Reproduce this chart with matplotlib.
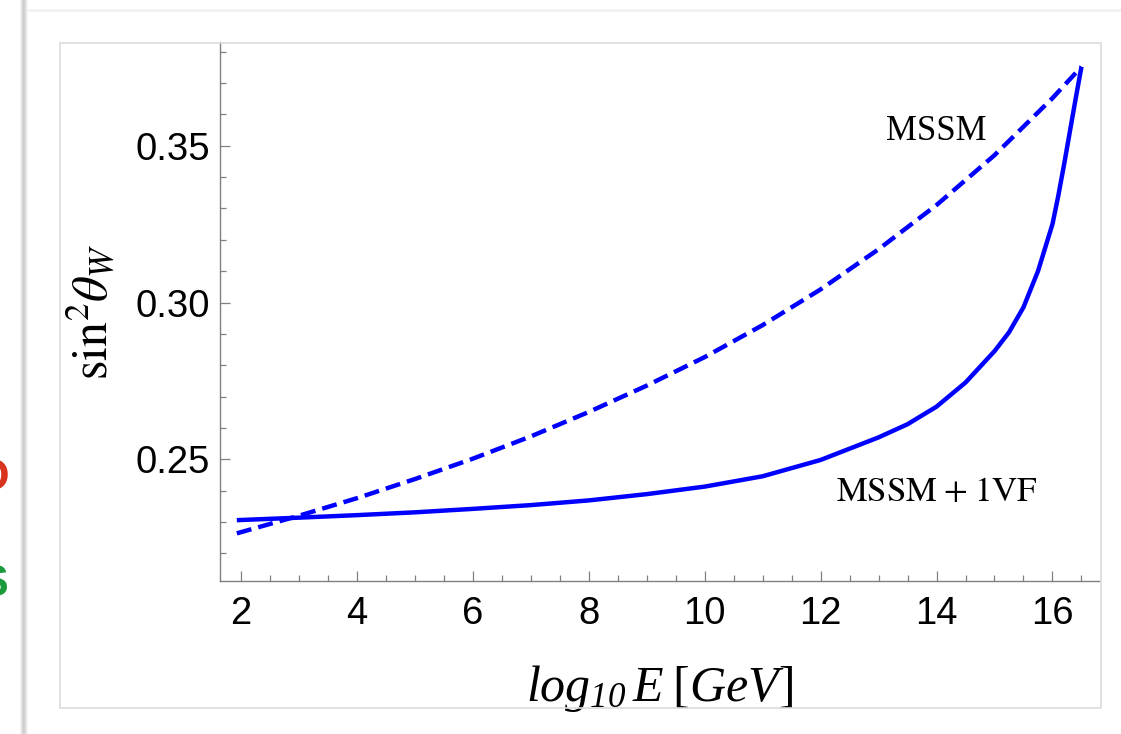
import matplotlib
matplotlib.use("Agg")
import matplotlib.pyplot as plt
from matplotlib.patches import Rectangle
from matplotlib.ticker import MultipleLocator

plt.rcParams["mathtext.fontset"] = "stix"
# the "custom" set is used only by the x label: italic Times-like, upright brackets via bf
plt.rcParams["mathtext.it"] = "Liberation Serif:italic"
plt.rcParams["mathtext.rm"] = "Liberation Serif:italic"
plt.rcParams["mathtext.bf"] = "Liberation Serif"
plt.rcParams["font.family"] = ["Liberation Sans", "DejaVu Sans"]

# values
x_mssm = [1.93, 3, 4, 5, 6, 7, 8, 9, 10, 11, 12, 13, 14, 15, 16, 16.5]
y_mssm = [0.2264, 0.2320, 0.2376, 0.2437, 0.2502, 0.2573, 0.2651, 0.2735, 0.2826,
          0.2928, 0.3042, 0.3170, 0.3311, 0.3470, 0.3652, 0.3752]

x_vf = [1.93, 3, 4, 5, 6, 7, 8, 9, 10, 11, 12, 13, 13.5, 14, 14.5, 15, 15.25, 15.5,
        15.75, 16, 16.1, 16.2, 16.3, 16.4, 16.5]
y_vf = [0.2306, 0.2314, 0.2322, 0.2331, 0.2342, 0.2354, 0.2369, 0.2389, 0.2413, 0.2446,
        0.2498, 0.2570, 0.2612, 0.2668, 0.2745, 0.2845, 0.2905, 0.2985, 0.3100, 0.3250,
        0.3340, 0.3440, 0.3545, 0.3650, 0.3752]

xticks = [2, 4, 6, 8, 10, 12, 14, 16]
yticks = [0.25, 0.30, 0.35]
ytick_labels = ["0.25", "0.30", "0.35"]

W, H = 1121, 734
fig = plt.figure(figsize=(W / 100, H / 100), dpi=100)

# card background: shadow strip on the left, thin line on top, inner frame
for i, c in enumerate(["#f4f4f4", "#e6e6e6", "#d6d6d6", "#cfcfcf", "#d2d2d2", "#dcdcdc", "#e9e9e9", "#f6f6f6"]):
    fig.patches.append(Rectangle(((20 + i) / W, 0), 1 / W, 1, transform=fig.transFigure,
                                 facecolor=c, edgecolor="none", zorder=0))
fig.patches.append(Rectangle((28 / W, 1 - 12 / H), 1 - 28 / W, 3 / H, transform=fig.transFigure,
                             facecolor="#f2f2f2", edgecolor="none", zorder=0))
fig.patches.append(Rectangle((60 / W, 1 - 708 / H), (1101 - 60) / W, (708 - 43) / H,
                             transform=fig.transFigure, facecolor="none",
                             edgecolor="#dcdcdc", lw=1.2, zorder=0))

# cut-off letters from the slide at the left edge
fig.text(9 / W, 1 - 479 / H, "O", color="#d8341e", fontsize=32, fontweight="bold",
         ha="right", va="center")
fig.text(8 / W, 1 - 585 / H, "S", color="#1b9a3c", fontsize=32, fontweight="bold",
         ha="right", va="center")

ax = fig.add_axes([220 / W, 1 - 581 / H, (1100 - 220) / W, (581 - 42) / H])
ax.plot(x_vf, y_vf, color="blue", lw=3.2, solid_capstyle="butt")
ax.plot(x_mssm, y_mssm, color="blue", lw=3.2, ls=(0, (3.4, 1.6)), dash_capstyle="butt")

ax.set_xlim(1.64, 16.82)
ax.set_ylim(0.2112, 0.3831)
ax.set_xticks(xticks)
ax.set_yticks(yticks)
ax.set_yticklabels(ytick_labels)
ax.xaxis.set_minor_locator(MultipleLocator(0.5))
ax.yaxis.set_minor_locator(MultipleLocator(0.01))

for s in ["top", "right"]:
    ax.spines[s].set_visible(False)
for s in ["left", "bottom"]:
    ax.spines[s].set_color("#808080")
    ax.spines[s].set_linewidth(1.0)

ax.tick_params(which="both", direction="in", color="#808080", width=0.9,
               labelsize=27.5, top=False, right=False)
ax.tick_params(which="major", length=7.5, pad=7)
ax.tick_params(which="minor", length=4.5)
ax.tick_params(axis="x", which="major", pad=11)

ax.set_xlabel(r"$log_{10}\,E\;\mathbf{[}GeV\mathbf{]}$", fontsize=36, labelpad=22,
              math_fontfamily="custom")
ax.set_ylabel(r"$\mathrm{sin}^2\theta_W$", fontsize=36, labelpad=13, math_fontfamily="stix")

ax.text(13.99, 0.3547, "MSSM", family="Liberation Serif", fontsize=25, ha="center", va="center")
ax.text(14.0, 0.2396, r"$\mathrm{MSSM}\;{+}\;\mathrm{1VF}$", fontsize=25, ha="center",
        va="center", math_fontfamily="stix")

fig.savefig("out.png", dpi=100)
